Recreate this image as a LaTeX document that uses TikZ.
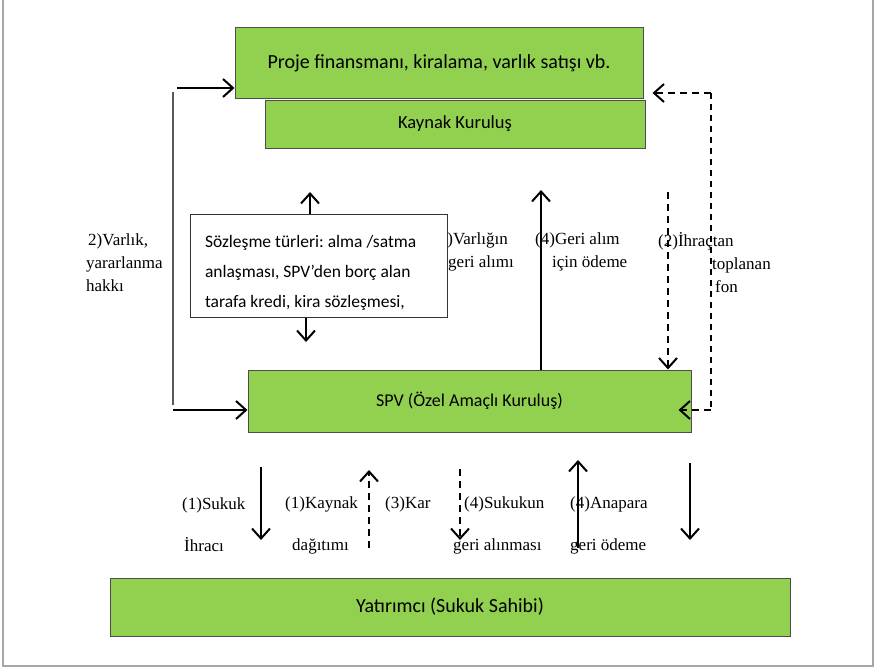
\documentclass[tikz,border=0pt]{standalone}
\usepackage{fontspec}
\setmainfont{Liberation Serif}
\newfontfamily\boxfont{Carlito}
\usetikzlibrary{arrows.meta,positioning}
\definecolor{boxgreen}{HTML}{92D050}
\definecolor{framegray}{HTML}{A6A6A6}
\frenchspacing
\tikzset{>={Straight Barb[length=10pt,width=18pt,line width=2pt]}}
\tikzset{greenbox/.style={shape=rectangle, draw=black!70, fill=boxgreen,
    line width=1pt, inner sep=0pt, font=\boxfont\fontsize{18}{22}\selectfont}}
\tikzset{note/.style={align=left, inner sep=0pt, font=\fontsize{17}{23}\selectfont}}
\tikzset{lownote/.style={align=left, inner sep=0pt, font=\fontsize{17}{42}\selectfont}}
\tikzset{solidarrow/.style={->, line width=2pt}}
\tikzset{dasharrow/.style={->, line width=1.6pt, dash pattern=on 7pt off 5pt}}
\tikzset{dashline/.style={line width=1.3pt, dash pattern=on 6pt off 5pt}}

\begin{document}
\begin{tikzpicture}[x=1pt, y=-1pt]
    \useasboundingbox (0,0) rectangle (875,669);
    \draw[framegray, line width=1.5pt] (3,0) -- (3,666) -- (873,666) -- (873,0);
    % green boxes
    \node[greenbox, minimum width=408pt, minimum height=70pt,
        font=\boxfont\fontsize{20}{24}\selectfont] (proje) at (439,63)
        {Proje finansmanı, kiralama, varlık satışı vb.};
    \node[greenbox, minimum width=380pt, minimum height=48pt,
        font=\boxfont\fontsize{18.5}{22}\selectfont] (kaynak) at (455,124)
        {Kaynak Kuruluş};
    \node[greenbox, minimum width=443pt, minimum height=62pt] (spv) at (469.5,401)
        {SPV (Özel Amaçlı Kuruluş)};
    \node[greenbox, minimum width=680pt, minimum height=58pt,
        font=\boxfont\fontsize{20}{24}\selectfont] (yatirimci) at (450,607)
        {Yatırımcı (Sukuk Sahibi)};
    % label partly under the contract box
    \node[note, anchor=west] (varligin) at (433,252) {(4)Varlığın\\\hspace*{15pt}geri alımı};
    \node[draw=black!80, fill=white, line width=1pt, minimum width=257pt,
        minimum height=103pt, text width=227pt, inner xsep=15pt, align=flush left,
        font=\boxfont\fontsize{17.5}{30}\selectfont] (sozlesme) at (318.5,265.5)
        {\rule{0pt}{26pt}Sözleşme türleri: alma /satma\\anlaşması, SPV’den borç alan\\tarafa kredi, kira sözleşmesi,};
    \coordinate (soz up) at (310,192);
    \coordinate (soz down) at (306,342);
    \draw[solidarrow] (sozlesme.north -| soz up) -- (soz up);
    \draw[solidarrow] (sozlesme.south -| soz down) -- (soz down);
    % left side
    \coordinate (left top) at (173,92);
    \coordinate (left bottom) at (173,405);
    \coordinate (proje in) at (177,88);
    \coordinate (spv in) at (173,410);
    \draw[line width=1.5pt, black!65] (left top) -- (left bottom);
    \draw[solidarrow] (proje in) -- (proje in -| proje.west);
    \draw[solidarrow] (spv in) -- (spv in -| spv.west);
    \node[note, anchor=west] (varlik) at (86,263) {\hspace*{2pt}2)Varlık,\\yararlanma\\hakkı};
    % right side
    \coordinate (geri alim) at (541,190);
    \draw[solidarrow] (spv.north -| geri alim) -- (geri alim);
    \node[note, anchor=west] (geri) at (535,252) {(4)Geri alım\\\hspace*{17pt}için ödeme};
    \coordinate (ihrac top) at (668,192);
    \draw[dasharrow] (ihrac top) -- (ihrac top |- spv.north);
    \node[note, anchor=west] (ihrac) at (658,263)
        {(2)İhraçtan\\\hspace*{54pt}toplanan\\\hspace*{57pt}fon};
    \coordinate (fon top) at (711,93);
    \coordinate (fon bottom) at (711,410);
    \draw[dashline] (fon top) -- (fon bottom);
    \draw[dasharrow] (fon top) -- ([xshift=9pt]proje.east |- fon top);
    \draw[dasharrow] (fon bottom) -- ([xshift=-13pt]spv.east |- fon bottom);
    % between SPV and investors
    \coordinate (sukuk a) at (261,467);
    \coordinate (sukuk b) at (261,540);
    \coordinate (kar a) at (369,548);
    \coordinate (kar b) at (369,470);
    \coordinate (sukukun a) at (460,469);
    \coordinate (sukukun b) at (460,540);
    \coordinate (anapara a) at (578,548);
    \coordinate (anapara b) at (578,460);
    \coordinate (odeme a) at (690,463);
    \coordinate (odeme b) at (690,540);
    \draw[solidarrow] (sukuk a) -- (sukuk b);
    \draw[dasharrow] (kar a) -- (kar b);
    \draw[dasharrow] (sukukun a) -- (sukukun b);
    \draw[solidarrow] (anapara a) -- (anapara b);
    \draw[solidarrow] (odeme a) -- (odeme b);
    \node[lownote, anchor=west] (sukuk) at (182,525) {(1)Sukuk\\\hspace*{2pt}İhracı};
    \node[lownote, anchor=west] (dagitim) at (285,525) {(1)Kaynak\\\hspace*{7pt}dağıtımı};
    \node[note, anchor=west] (kar) at (385,504) {(3)Kar};
    \node[lownote, anchor=west] (sukukun) at (453,525) {\hspace*{11pt}(4)Sukukun\\geri alınması};
    \node[lownote, anchor=west] (anapara) at (570,525) {(4)Anapara\\geri ödeme};
\end{tikzpicture}
\end{document}
